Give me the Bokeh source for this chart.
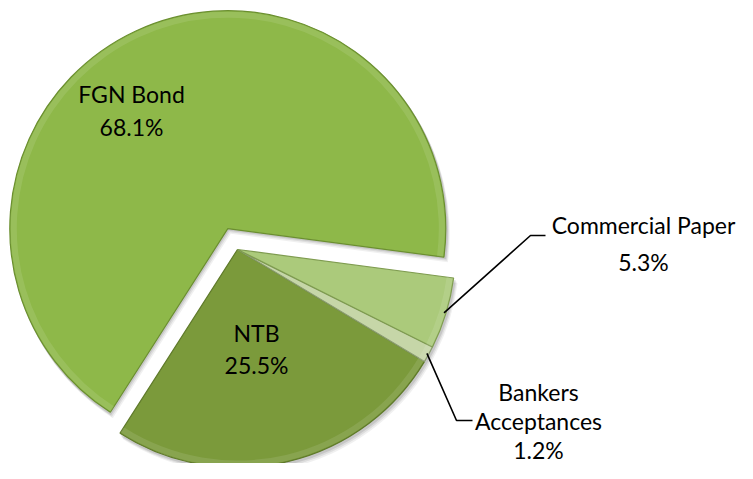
import numpy as np
from bokeh.plotting import figure
from bokeh.models import Range1d, ColumnDataSource
from bokeh.core.properties import value
from bokeh.embed import file_html
from bokeh.resources import INLINE

# ---- data ----
categories = ["NTB", "Bankers Acceptances", "Commercial Paper", "FGN Bond"]
shares = [25.5, 1.2, 5.3, 68.1]
pct_labels = ["25.5%", "1.2%", "5.3%", "68.1%"]
name_lines = [["NTB"], ["Bankers", "Acceptances"], ["Commercial Paper"], ["FGN Bond"]]
colors = ["#7b9a3b", "#c6d6a8", "#abca7b", "#8eb849"]
edge_colors = ["#5f7a2a", "#8a9c70", "#7f9c50", "#6b8f30"]
explode = [0, 0, 0, 23]

# ---- layout ----
W, H = 737, 463
cx, cy = 245, 222          # pie centre (data units = pixels)
R = 218
start_deg = 237.4

p = figure(width=W, height=H, output_backend="svg", toolbar_location=None,
           x_range=Range1d(8, 8 + W), y_range=Range1d(479 - 8 - H, 479 - 8),
           min_border=0)
p.axis.visible = False
p.grid.visible = False
p.outline_line_color = None
p.background_fill_color = "white"
p.border_fill_color = "white"

vals = np.array(shares)
ang = vals / vals.sum() * 2 * np.pi
starts = np.radians(start_deg) + np.concatenate([[0], np.cumsum(ang)[:-1]])
ends = starts + ang
mids = (starts + ends) / 2
xs = cx + np.array(explode) * np.cos(mids)
ys = cy + np.array(explode) * np.sin(mids)

src = ColumnDataSource(dict(x=xs, y=ys, start=starts, end=ends, color=colors,
                            edge=edge_colors, name=categories))

# soft shadow
for off, a in [(5, 0.06), (3.5, 0.08), (2, 0.10)]:
    p.wedge(x=xs + off * 0.6, y=ys - off, radius=R + 1, start_angle=starts, end_angle=ends,
            fill_color="black", fill_alpha=a, line_color=None)

# slices
p.wedge(x="x", y="y", radius=R, start_angle="start", end_angle="end", source=src,
        fill_color="color", line_color="edge", line_width=1.2)

# bevel: light rim along the arc
p.annular_wedge(x="x", y="y", inner_radius=R - 7, outer_radius=R - 1, start_angle="start",
                end_angle="end", source=src, fill_color="white", fill_alpha=0.10, line_color=None)

# ---- labels ----
font = value("Lato")
fs = "23px"
# inside labels
inside = {0: ((264, 139), 32), 3: ((139, 378), 33)}
for i, ((tx, ty), dy) in inside.items():
    lines = name_lines[i] + [pct_labels[i]]
    for k, t in enumerate(lines):
        p.text(x=[tx], y=[ty - dy * k], text=[t], text_align="center", text_baseline="middle",
               text_font=font, text_font_size=fs, text_color="black")

# outside labels with leader lines
outside = {2: dict(label=(651, 247), dy=37, elbow=(538, 236), end=(553, 236)),
           1: dict(label=(546, 80), dy=29, elbow=(464, 51), end=(480, 51))}
for i, d in outside.items():
    sx = xs[i] + (R - 2) * np.cos(mids[i])
    sy = ys[i] + (R - 2) * np.sin(mids[i])
    p.line(x=[sx, d["elbow"][0], d["end"][0]], y=[sy, d["elbow"][1], d["end"][1]],
           line_color="black", line_width=1.6)
    lines = name_lines[i] + [pct_labels[i]]
    tx, ty = d["label"]
    for k, t in enumerate(lines):
        p.text(x=[tx], y=[ty - d["dy"] * k], text=[t], text_align="center", text_baseline="middle",
               text_font=font, text_font_size=fs, text_color="black")

open("out.html", "w").write(file_html(p, INLINE))
